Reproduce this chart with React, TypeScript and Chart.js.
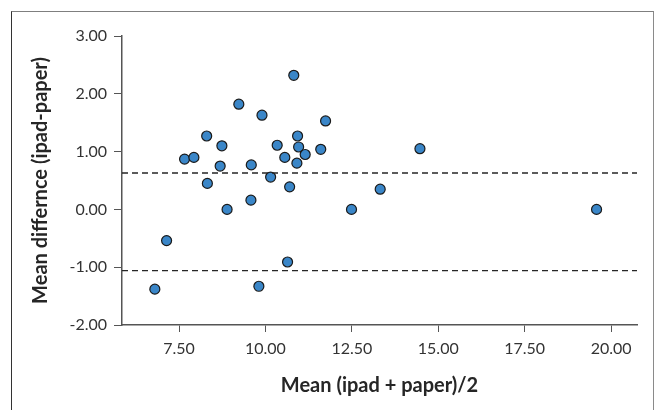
import React, { useEffect, useRef } from 'react';
import { Chart, registerables } from 'chart.js';

Chart.register(...registerables);

// Bland-Altman data: mean of the two methods (x) vs difference (y)
const meanValues = [
  6.8, 7.14, 7.66, 7.93, 8.3, 8.32, 8.74, 8.69, 8.89, 9.23,
  9.59, 9.58, 9.81, 9.9, 10.15, 10.34, 10.56, 10.64, 10.7, 10.82,
  10.91, 10.93, 10.96, 11.15, 11.6, 11.74, 12.49, 13.32, 14.47, 19.58,
];
const diffValues = [
  -1.38, -0.54, 0.87, 0.9, 1.27, 0.45, 1.1, 0.75, 0.0, 1.82,
  0.77, 0.16, -1.33, 1.63, 0.56, 1.11, 0.9, -0.91, 0.39, 2.32,
  0.8, 1.27, 1.08, 0.95, 1.04, 1.53, 0.0, 0.35, 1.05, 0.0,
];
const xTickValues = [7.5, 10, 12.5, 15, 17.5, 20];
const yTickValues = [-2, -1, 0, 1, 2, 3];
const xRange = [5.85, 20.75];
const yRange = [-2, 3];
const meanDifference = 0.63;
const lowerLimit = -1.06;

const xTitle = 'Mean (ipad + paper)/2';
const yTitle = 'Mean differnce (ipad-paper)';

export default function App() {
  const canvasRef = useRef<HTMLCanvasElement | null>(null);

  useEffect(() => {
    if (!canvasRef.current) return;
    const fontFamily = 'Lato, "Open Sans", sans-serif';
    const points = meanValues.map((x, i) => ({ x, y: diffValues[i] }));
    const dashed = (y: number) => ({
      type: 'line',
      data: [
        { x: xRange[0], y },
        { x: xRange[1], y },
      ],
      borderColor: '#262626',
      borderWidth: 1.4,
      borderDash: [6, 4],
      pointRadius: 0,
      fill: false,
    });
    const chart = new Chart(canvasRef.current, {
      type: 'scatter',
      data: {
        datasets: [
          dashed(meanDifference) as any,
          dashed(lowerLimit) as any,
          {
            type: 'scatter',
            data: points,
            pointRadius: 5,
            pointHoverRadius: 5,
            backgroundColor: '#3a86c8',
            borderColor: '#1a1a1a',
            borderWidth: 1.2,
          },
        ],
      },
      options: {
        animation: false,
        responsive: false,
        devicePixelRatio: 1,
        layout: { padding: { left: 0, top: 36, right: 20, bottom: 0 } },
        plugins: {
          legend: { display: false },
          tooltip: { enabled: false },
        },
        scales: {
          x: {
            type: 'linear',
            min: xRange[0],
            max: xRange[1],
            afterBuildTicks: (scale: any) => {
              scale.ticks = xTickValues.map((v) => ({ value: v }));
            },
            afterFit: (scale: any) => {
              scale.height = 85;
            },
            grid: {
              drawOnChartArea: false,
              drawTicks: true,
              tickLength: 7,
              color: '#555555',
              lineWidth: 1,
            },
            border: { display: true, color: '#555555', width: 1.5 },
            ticks: {
              color: '#333333',
              font: { family: fontFamily, size: 16 },
              padding: 7,
              maxRotation: 0,
              callback: (v: any) => Number(v).toFixed(2),
            },
            title: {
              display: true,
              text: xTitle,
              color: '#262626',
              font: { family: fontFamily, size: 20, weight: 'bold' },
              padding: { top: 0, bottom: 12 },
            },
          },
          y: {
            type: 'linear',
            min: yRange[0],
            max: yRange[1],
            afterBuildTicks: (scale: any) => {
              scale.ticks = yTickValues.map((v) => ({ value: v }));
            },
            afterFit: (scale: any) => {
              scale.width = 122;
            },
            grid: {
              drawOnChartArea: false,
              drawTicks: true,
              tickLength: 8,
              color: '#555555',
              lineWidth: 1,
            },
            border: { display: true, color: '#555555', width: 1.5 },
            ticks: {
              color: '#333333',
              font: { family: fontFamily, size: 16 },
              padding: 7,
              callback: (v: any) => Number(v).toFixed(2),
            },
            title: {
              display: true,
              text: yTitle,
              color: '#262626',
              font: { family: fontFamily, size: 20, weight: 'bold' },
              padding: { top: 29, bottom: 0 },
            },
          },
        },
      },
    });
    return () => chart.destroy();
  }, []);

  return (
    <div style={{ position: 'absolute', left: 0, top: 0, width: 657, height: 410, overflow: 'hidden', background: '#ffffff' }}>
      <canvas ref={canvasRef} width={657} height={410} style={{ display: 'block' }} />
      <div
        style={{
          position: 'absolute',
          left: 11,
          top: 11,
          width: 643,
          height: 420,
          boxSizing: 'border-box',
          borderTop: '1px solid #7f7f7f',
          borderLeft: '1.5px solid #333333',
          borderRight: '1.5px solid #8a8a8a',
          pointerEvents: 'none',
        }}
      />
    </div>
  );
}
